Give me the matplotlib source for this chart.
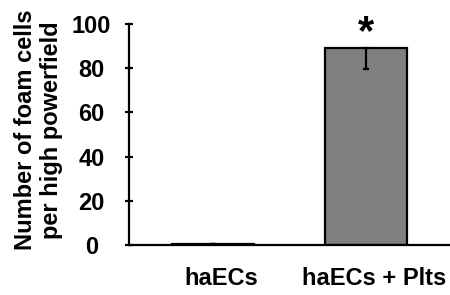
import matplotlib.pyplot as plt
from matplotlib.transforms import ScaledTranslation

# values
groups = ["haECs", "haECs + Plts"]
foam_cells = [0.5, 89]
err_lower = [0, 9.5]
signif = ["", "*"]

plt.rcParams['font.family'] = ['Liberation Sans', 'DejaVu Sans']
plt.rcParams['font.weight'] = 'bold'

fig = plt.figure(figsize=(4.5, 2.95), dpi=100)
ax = fig.add_axes([0.2867, 0.1695, 0.7133, 0.7491])

x = list(range(len(groups)))
ax.bar(x, foam_cells, width=0.54, color='#808080', edgecolor='black', linewidth=1.6, zorder=2)
ax.errorbar(x, foam_cells, yerr=[err_lower, [0] * len(x)], fmt='none',
            ecolor='black', elinewidth=1.6, capsize=2.2, capthick=1.6, zorder=3)
for xi, v, s in zip(x, foam_cells, signif):
    if s:
        ax.text(xi, 87, s, ha='center', va='bottom', fontsize=30, fontweight='bold',
                clip_on=False, zorder=4)

ax.set_xlim(-0.55, 1.55)
ax.set_ylim(0, 100)
ax.set_yticks([0, 20, 40, 60, 80, 100])
ax.set_xticks(x)
ax.set_xticklabels(groups, fontsize=17)
ax.tick_params(axis='x', length=0, pad=16)
ax.tick_params(axis='y', direction='inout', length=6, width=1.6, labelsize=17, pad=24)
for lbl in ax.get_yticklabels():
    lbl.set_horizontalalignment('center')
shift = ScaledTranslation(8 / 100, 0, fig.dpi_scale_trans)
for lbl in ax.get_xticklabels():
    lbl.set_transform(lbl.get_transform() + shift)

for side in ['top', 'right']:
    ax.spines[side].set_visible(False)
ax.spines['left'].set_linewidth(1.6)
ax.spines['bottom'].set_linewidth(1.6)

ax.set_ylabel("Number of foam cells\nper high powerfield", fontsize=17,
              fontweight='bold', linespacing=1.15)
ax.yaxis.set_label_coords(-0.2056, 0.52)

fig.savefig("out.png", dpi=100)
